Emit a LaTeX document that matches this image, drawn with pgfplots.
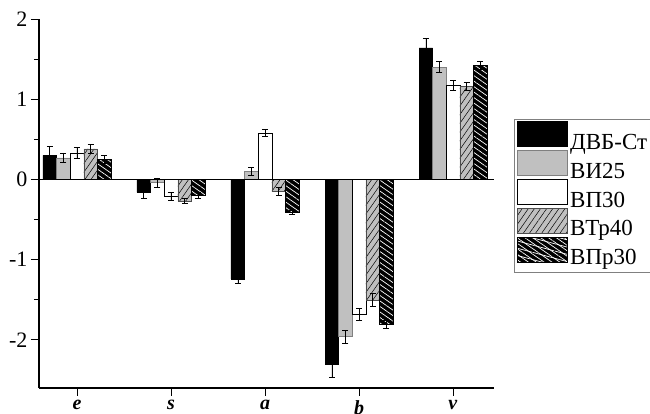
\documentclass[border=0pt]{standalone}
\usepackage{fontspec}
\setmainfont{Liberation Serif}
\usepackage{pgfplots}
\pgfplotsset{compat=1.18}
\usetikzlibrary{patterns.meta}
\definecolor{lgray}{RGB}{192,192,192}
\begin{document}
\begin{tikzpicture}
\begin{axis}[
  scale only axis,
  width=455bp, height=369bp,
  xmin=-0.404, xmax=4.436,
  ymin=-2.6, ymax=2,
  axis lines*=left,
  axis line style={line width=1.6pt,-},
  xtick={0,1,2,3,4},
  xticklabels={\textbf{\textit{e}},\textbf{\textit{s}},\textbf{\textit{a}},\textbf{\textit{b}},\textbf{\textit{v}}},
  ytick={-2,-1,0,1,2},
  yticklabels={-2,-1,0,1,2},
  minor y tick num=1,
  xtick align=center,
  ytick align=outside,
  major tick length=8bp,
  minor tick length=5bp,
  every tick/.style={black, line width=0.8pt},
  yticklabel style={font=\fontsize{22bp}{24bp}\selectfont},
  xticklabel style={font=\fontsize{20bp}{22bp}\selectfont, yshift=-1bp},
  ybar=0pt,
  bar width=13.6bp,
  error bars/y dir=both,
  error bars/y explicit,
  error bars/error bar style={line width=0.6pt, black, solid},
  error bars/error mark options={rotate=90, mark size=3bp, line width=0.6pt, black},
  legend image code/.code={\draw[#1,/tikz/.cd,yshift=0pt] (0bp,-4bp) rectangle (50bp,21bp);},
  legend style={at={(1.044,0.729)}, anchor=north west, draw=gray, line width=0.8pt,
    inner xsep=3bp, inner ysep=2bp, row sep=-5bp,
    nodes={inner ysep=0bp, text height=19bp, text depth=6bp},
    font=\fontsize{23bp}{25bp}\selectfont},
  legend cell align=left,
  clip=false,
]
\addplot[fill=black, draw=black] coordinates {
 (0,0.30) +- (0,0.11)
 (1,-0.16) +- (0,0.07)
 (2,-1.24) +- (0,0.06)
 (3,-2.30) +- (0,0.17)
 (4,1.64) +- (0,0.12)
};
\addplot[fill=lgray, draw=gray] coordinates {
 (0,0.27) +- (0,0.06)
 (1,-0.04) +- (0,0.06)
 (2,0.10) +- (0,0.05)
 (3,-1.96) +- (0,0.08)
 (4,1.40) +- (0,0.07)
};
\addplot[fill=white, draw=black] coordinates {
 (0,0.33) +- (0,0.07)
 (1,-0.21) +- (0,0.05)
 (2,0.58) +- (0,0.04)
 (3,-1.68) +- (0,0.07)
 (4,1.17) +- (0,0.06)
};
\addplot[fill=lgray, draw=gray!60!black,
  postaction={pattern={Lines[angle=55,distance=5bp,line width=0.5pt]}, pattern color=black}] coordinates {
 (0,0.38) +- (0,0.06)
 (1,-0.27) +- (0,0.03)
 (2,-0.15) +- (0,0.05)
 (3,-1.50) +- (0,0.08)
 (4,1.16) +- (0,0.05)
};
\addplot[fill=black, draw=black,
  postaction={pattern={Lines[angle=-35,distance=4.5bp,line width=0.7pt]}, pattern color=white},
  legend image code/.code={\draw[fill=black,draw=black,postaction={pattern={Lines[angle=-15,distance=7bp,line width=0.7pt]}, pattern color=white}] (0bp,-4bp) rectangle (50bp,21bp);}] coordinates {
 (0,0.25) +- (0,0.05)
 (1,-0.20) +- (0,0.04)
 (2,-0.41) +- (0,0.03)
 (3,-1.80) +- (0,0.05)
 (4,1.42) +- (0,0.05)
};
\legend{ДВБ-Ст,ВИ25,ВП30,ВТр40,ВПр30}
\draw[black, line width=0.8pt] (axis cs:-0.404,0) -- (axis cs:4.436,0);
\end{axis}
\pgfresetboundingbox
\path (-39bp,-26bp) rectangle (611bp,388bp);
\end{tikzpicture}
\end{document}
